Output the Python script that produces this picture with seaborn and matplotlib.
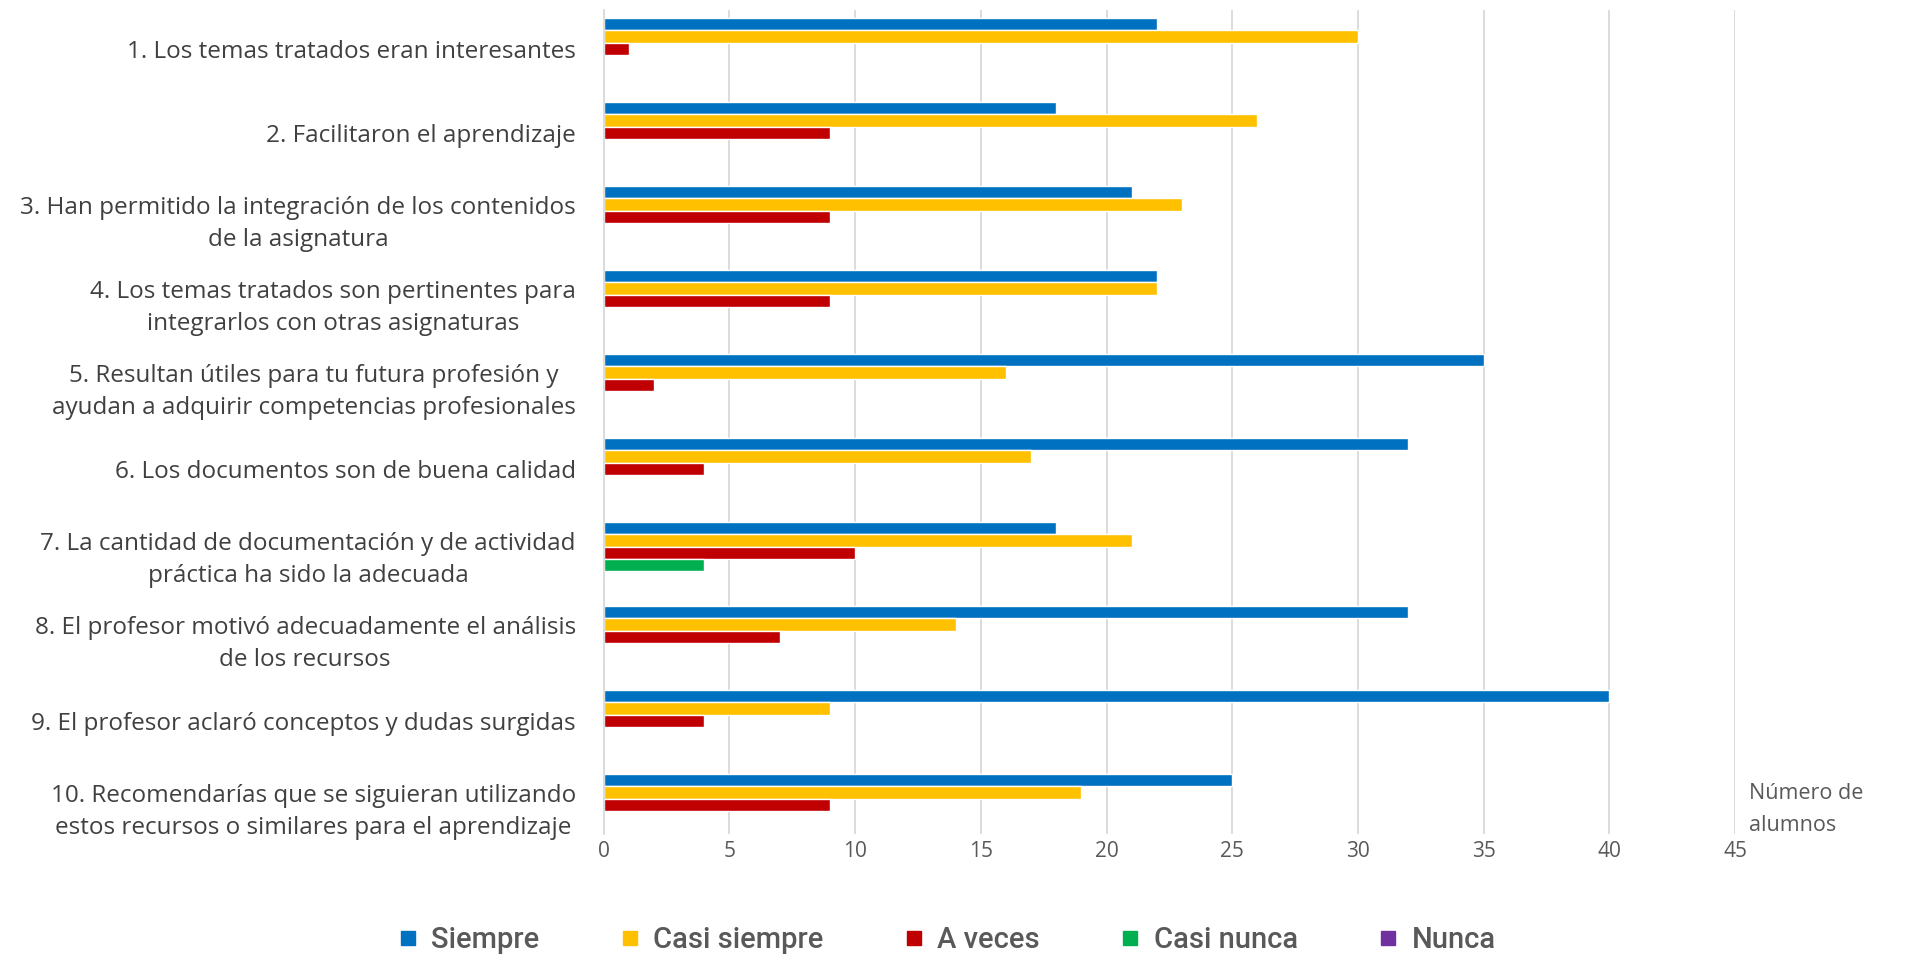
import seaborn as sns
import matplotlib.pyplot as plt
import pandas as pd
from matplotlib.lines import Line2D

QUESTIONS = [
    "1. Los temas tratados eran interesantes",
    "2. Facilitaron el aprendizaje",
    "3. Han permitido la integración de los contenidos\nde la asignatura",
    "4. Los temas tratados son pertinentes para\nintegrarlos con otras asignaturas",
    "5. Resultan útiles para tu futura profesión y\nayudan a adquirir competencias profesionales",
    "6. Los documentos son de buena calidad",
    "7. La cantidad de documentación y de actividad\npráctica ha sido la adecuada",
    "8. El profesor motivó adecuadamente el análisis\nde los recursos",
    "9. El profesor aclaró conceptos y dudas surgidas",
    "10. Recomendarías que se siguieran utilizando\nestos recursos o similares para el aprendizaje",
]
ANSWERS = ["Siempre", "Casi siempre", "A veces", "Casi nunca", "Nunca"]
COLORS = ["#0070c0", "#ffc000", "#c00000", "#00b050", "#7030a0"]

siempre = [22, 18, 21, 22, 35, 32, 18, 32, 40, 25]
casi_siempre = [30, 26, 23, 22, 16, 17, 21, 14, 9, 19]
a_veces = [1, 9, 9, 9, 2, 4, 10, 7, 4, 9]
casi_nunca = [0, 0, 0, 0, 0, 0, 4, 0, 0, 0]
nunca = [0, 0, 0, 0, 0, 0, 0, 0, 0, 0]

series = [siempre, casi_siempre, a_veces, casi_nunca, nunca]
rows = []
for answer, values in zip(ANSWERS, series):
    for q, v in zip(QUESTIONS, values):
        rows.append({"pregunta": q, "respuesta": answer, "alumnos": v})
df = pd.DataFrame(rows)

sns.set_style("white")
plt.rcParams["font.family"] = ["Open Sans", "DejaVu Sans"]

fig = plt.figure(figsize=(19.12, 9.55), dpi=100)
ax = fig.add_axes([0.3157, 0.1264, 0.5918, 0.8634])

sns.barplot(data=df, y="pregunta", x="alumnos", hue="respuesta", orient="h",
            hue_order=ANSWERS, palette=COLORS, width=0.73, ax=ax,
            legend=False, saturation=1, order=QUESTIONS)

ax.set_xlim(0, 45)
ax.set_xticks(range(0, 50, 5))
ax.set_ylim(9.35, -0.465)
ax.grid(axis="x", color="#d9d9d9", linewidth=1.3)
ax.set_axisbelow(True)
for s in ["top", "right", "bottom"]:
    ax.spines[s].set_visible(False)
ax.spines["left"].set_color("#d9d9d9")
ax.spines["left"].set_linewidth(1.3)
ax.tick_params(axis="both", length=0)
ax.tick_params(axis="x", labelsize=15, labelcolor="#595959", pad=5)
ax.tick_params(axis="y", labelsize=17.5, labelcolor="#404040", pad=20)
for lab in ax.get_yticklabels():
    lab.set_multialignment("center")
    lab.set_linespacing(1.45)
ax.set_xlabel("")
ax.set_ylabel("")

fig.text(0.915, 0.18, "Número de\nalumnos", fontsize=15.5, color="#595959",
         ha="left", va="top", linespacing=1.7)

handles = [Line2D([], [], marker="s", linestyle="", markersize=10,
                  markerfacecolor=c, markeredgecolor=c) for c in COLORS]
fig.legend(handles, ANSWERS, loc="center", bbox_to_anchor=(0.494, 0.016),
           ncol=5, frameon=False, columnspacing=2.6, handletextpad=0.3,
           handlelength=1.0, labelcolor="#595959",
           prop={"family": ["Roboto", "DejaVu Sans"],
                 "weight": "medium", "size": 21})

fig.savefig("out.png", dpi=100)
